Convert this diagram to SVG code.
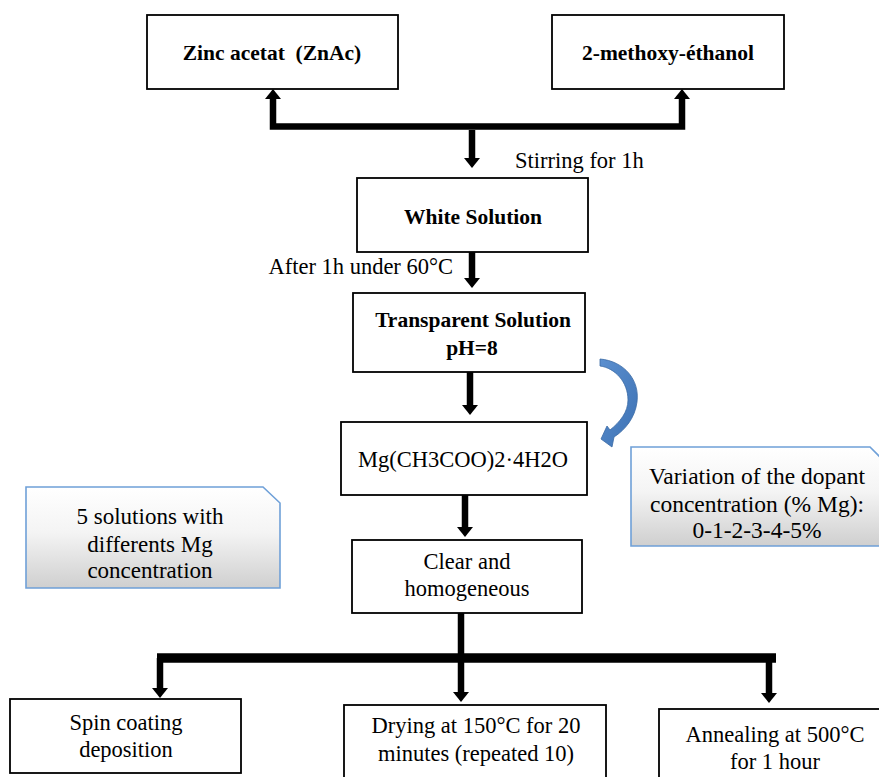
<svg xmlns="http://www.w3.org/2000/svg" width="879" height="777" viewBox="0 0 879 777">
<style>
.box{fill:#fff;stroke:#000;stroke-width:1.8}
.t{font-family:"Liberation Serif","Times New Roman",serif;font-size:22.5px;fill:#000;text-anchor:middle}
.c{font-size:23.5px}
.b{font-family:"Liberation Serif","Times New Roman",serif;font-size:21.5px;font-weight:bold;fill:#000;text-anchor:middle;white-space:pre}
.sh{fill:none;stroke:#000;stroke-width:6.5;stroke-linejoin:miter}
.call{fill:url(#gray);stroke:#6fa0d8;stroke-width:1.6}
</style>
<defs>
<marker id="ah" viewBox="0 -8 10 16" refX="0" refY="0" markerWidth="10" markerHeight="16" markerUnits="userSpaceOnUse" orient="auto-start-reverse">
<path d="M0,-8 L10,0 L0,8 Z" fill="#000"/>
</marker>
<linearGradient id="gray" x1="0" y1="0" x2="0" y2="1">
<stop offset="0" stop-color="#ffffff"/>
<stop offset="0.45" stop-color="#f4f4f4"/>
<stop offset="1" stop-color="#cfcfcf"/>
</linearGradient>
<linearGradient id="blue" x1="0" y1="0" x2="1" y2="1">
<stop offset="0" stop-color="#5b8fcf"/>
<stop offset="1" stop-color="#3d72b4"/>
</linearGradient>
</defs>

<g id="connectors">
<path class="sh" d="M273 99 V126.5 H682 V99" marker-start="url(#ah)" marker-end="url(#ah)"/>
<path class="sh" d="M472 130 V158" marker-end="url(#ah)"/>
<path class="sh" d="M472 252 V278" marker-end="url(#ah)"/>
<path class="sh" d="M470 372 V405" marker-end="url(#ah)"/>
<path class="sh" d="M465 495 V527" marker-end="url(#ah)"/>
<path class="sh" d="M461 613 V692" marker-end="url(#ah)"/>
<path d="M157 658 H776" stroke="#000" stroke-width="9.5" fill="none"/>
<path class="sh" d="M160 658 V688" marker-end="url(#ah)"/>
<path class="sh" d="M769 658 V693" marker-end="url(#ah)"/>
<path id="curved-arrow" d="M600 359 C624 361 640 380 637 402 C635 418 625 430 614 437 L612 447 L601 439 L607 426 L610 430 C620 422 628 412 628 400 C628 382 615 368 600 366 Z" fill="url(#blue)" stroke="#3a6aa5" stroke-width="0.8"/>
</g>

<g id="zinc"><rect class="box" x="147" y="15" width="251" height="74"/><text class="b" x="272" y="60">Zinc acetat  (ZnAc)</text></g>
<g id="methoxy"><rect class="box" x="552" y="15" width="232" height="74"/><text class="b" x="668" y="60">2-methoxy-éthanol</text></g>
<text class="t" x="515" y="168" style="text-anchor:start">Stirring for 1h</text>
<g id="white"><rect class="box" x="357" y="178" width="231" height="74"/><text class="b" x="473" y="224">White Solution</text></g>
<text class="t" x="453" y="274" style="text-anchor:end">After 1h under 60°C</text>
<g id="transparent"><rect class="box" x="353" y="293" width="232" height="79"/><text class="b" x="473" y="327">Transparent Solution</text><text class="b" x="472" y="355">pH=8</text></g>
<g id="mg"><rect class="box" x="341" y="422" width="246" height="73"/><text class="t" x="463" y="467">Mg(CH3COO)2·4H2O</text></g>
<g id="clear"><rect class="box" x="352" y="540" width="230" height="73"/><text class="t" x="467" y="569">Clear and</text><text class="t" x="467" y="596">homogeneous</text></g>

<g id="variation"><path class="call" d="M631 447 H870 L886 463 V546 H631 Z"/><text class="t c" x="757" y="484">Variation of the dopant</text><text class="t c" x="757" y="512">concentration (% Mg):</text><text class="t c" x="757" y="538">0-1-2-3-4-5%</text></g>
<g id="solutions"><path class="call" d="M26 487 H263 L280 503 V588 H26 Z"/><text class="t" x="150" y="524" style="font-size:23px">5 solutions with</text><text class="t" x="150" y="552" style="font-size:23px">differents Mg</text><text class="t" x="150" y="578" style="font-size:23px">concentration</text></g>

<g id="spin"><rect class="box" x="10" y="699" width="231" height="74"/><text class="t" x="126" y="730">Spin coating</text><text class="t" x="126" y="757">deposition</text></g>
<g id="drying"><rect class="box" x="344" y="705" width="262" height="90"/><text class="t" x="476" y="733">Drying at 150°C for 20</text><text class="t" x="476" y="761">minutes (repeated 10)</text></g>
<g id="annealing"><rect class="box" x="659" y="709" width="240" height="90"/><text class="t" x="775" y="742">Annealing at 500°C</text><text class="t" x="775" y="769">for 1 hour</text></g>
</svg>
